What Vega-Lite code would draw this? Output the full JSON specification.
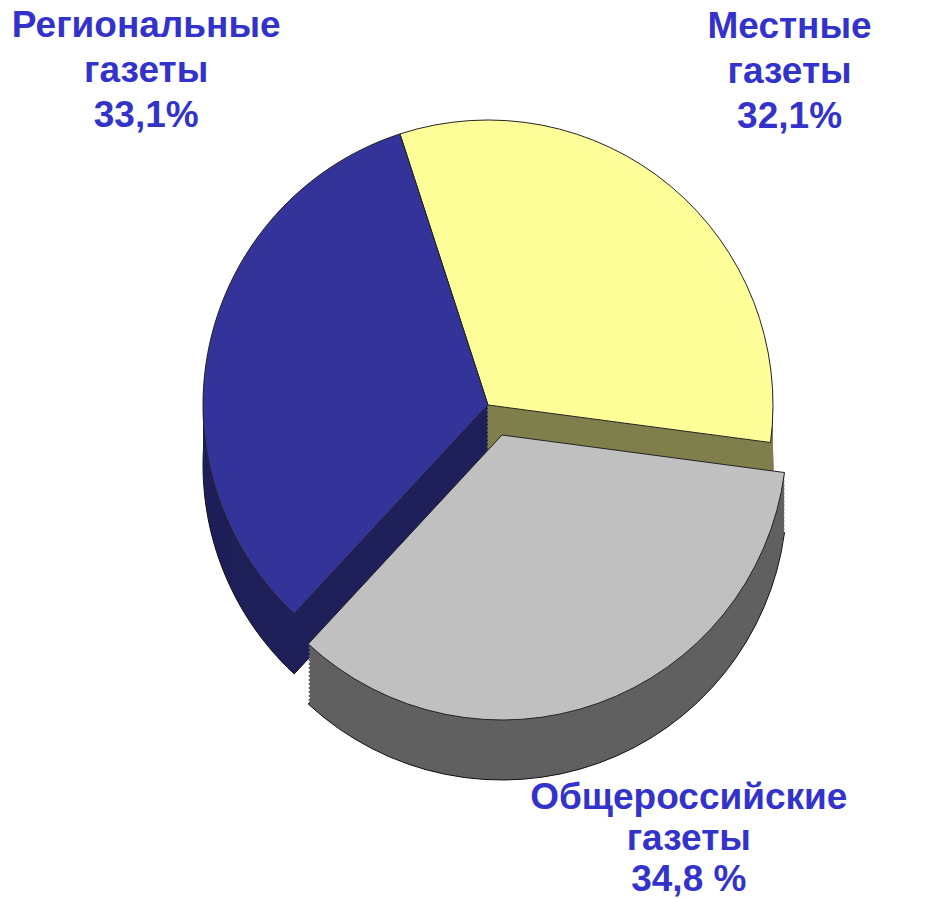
{
  "$schema": "https://vega.github.io/schema/vega-lite/v6.json",
  "autosize": "none",
  "width": 916,
  "height": 810,
  "padding": {"left": 30, "top": 0, "right": 0, "bottom": 89},
  "background": "white",
  "data": {"values": [
    {"i": 1, "k": "l", "name": "Местные газеты", "v": 32.1, "label": "Местные\nгазеты\n32,1%"},
    {"i": 2, "k": "g", "name": "Общероссийские газеты", "v": 34.8, "label": "Общероссийские\nгазеты\n34,8 %"},
    {"i": 3, "k": "r", "name": "Региональные газеты", "v": 33.1, "label": "Региональные\nгазеты\n33,1%"}
  ]},
  "encoding": {
    "theta": {"field": "v", "type": "quantitative", "stack": true, "scale": {"range": [-0.314, 5.969]}},
    "order": {"field": "i", "type": "quantitative"}
  },
  "layer": [
    {"mark": {"type": "arc", "radius": 285, "yOffset": 60, "strokeWidth": 1},
     "encoding": {"fill": {"condition": [{"test": "datum.k=='r'", "value": "#1F1F5A"}, {"test": "datum.k=='l'", "value": "#7F7F4C"}], "value": "transparent"},
                  "stroke": {"condition": {"test": "datum.k=='g'", "value": "transparent"}, "value": "#111111"}}},
    {"mark": {"type": "arc", "radius": 285, "yOffset": 56}, "encoding": {"fill": {"condition": [{"test": "datum.k=='r'", "value": "#1F1F5A"}, {"test": "datum.k=='l'", "value": "#7F7F4C"}], "value": "transparent"}}},
    {"mark": {"type": "arc", "radius": 285, "yOffset": 52}, "encoding": {"fill": {"condition": [{"test": "datum.k=='r'", "value": "#1F1F5A"}, {"test": "datum.k=='l'", "value": "#7F7F4C"}], "value": "transparent"}}},
    {"mark": {"type": "arc", "radius": 285, "yOffset": 48}, "encoding": {"fill": {"condition": [{"test": "datum.k=='r'", "value": "#1F1F5A"}, {"test": "datum.k=='l'", "value": "#7F7F4C"}], "value": "transparent"}}},
    {"mark": {"type": "arc", "radius": 285, "yOffset": 44}, "encoding": {"fill": {"condition": [{"test": "datum.k=='r'", "value": "#1F1F5A"}, {"test": "datum.k=='l'", "value": "#7F7F4C"}], "value": "transparent"}}},
    {"mark": {"type": "arc", "radius": 285, "yOffset": 40}, "encoding": {"fill": {"condition": [{"test": "datum.k=='r'", "value": "#1F1F5A"}, {"test": "datum.k=='l'", "value": "#7F7F4C"}], "value": "transparent"}}},
    {"mark": {"type": "arc", "radius": 285, "yOffset": 36}, "encoding": {"fill": {"condition": [{"test": "datum.k=='r'", "value": "#1F1F5A"}, {"test": "datum.k=='l'", "value": "#7F7F4C"}], "value": "transparent"}}},
    {"mark": {"type": "arc", "radius": 285, "yOffset": 32}, "encoding": {"fill": {"condition": [{"test": "datum.k=='r'", "value": "#1F1F5A"}, {"test": "datum.k=='l'", "value": "#7F7F4C"}], "value": "transparent"}}},
    {"mark": {"type": "arc", "radius": 285, "yOffset": 28}, "encoding": {"fill": {"condition": [{"test": "datum.k=='r'", "value": "#1F1F5A"}, {"test": "datum.k=='l'", "value": "#7F7F4C"}], "value": "transparent"}}},
    {"mark": {"type": "arc", "radius": 285, "yOffset": 24}, "encoding": {"fill": {"condition": [{"test": "datum.k=='r'", "value": "#1F1F5A"}, {"test": "datum.k=='l'", "value": "#7F7F4C"}], "value": "transparent"}}},
    {"mark": {"type": "arc", "radius": 285, "yOffset": 20}, "encoding": {"fill": {"condition": [{"test": "datum.k=='r'", "value": "#1F1F5A"}, {"test": "datum.k=='l'", "value": "#7F7F4C"}], "value": "transparent"}}},
    {"mark": {"type": "arc", "radius": 285, "yOffset": 16}, "encoding": {"fill": {"condition": [{"test": "datum.k=='r'", "value": "#1F1F5A"}, {"test": "datum.k=='l'", "value": "#7F7F4C"}], "value": "transparent"}}},
    {"mark": {"type": "arc", "radius": 285, "yOffset": 12}, "encoding": {"fill": {"condition": [{"test": "datum.k=='r'", "value": "#1F1F5A"}, {"test": "datum.k=='l'", "value": "#7F7F4C"}], "value": "transparent"}}},
    {"mark": {"type": "arc", "radius": 285, "yOffset": 8}, "encoding": {"fill": {"condition": [{"test": "datum.k=='r'", "value": "#1F1F5A"}, {"test": "datum.k=='l'", "value": "#7F7F4C"}], "value": "transparent"}}},
    {"mark": {"type": "arc", "radius": 285, "yOffset": 4}, "encoding": {"fill": {"condition": [{"test": "datum.k=='r'", "value": "#1F1F5A"}, {"test": "datum.k=='l'", "value": "#7F7F4C"}], "value": "transparent"}}},
    {"mark": {"type": "arc", "radius": 285, "strokeWidth": 1},
     "encoding": {"fill": {"condition": [{"test": "datum.k=='r'", "value": "#333399"}, {"test": "datum.k=='l'", "value": "#FFFF99"}], "value": "transparent"},
                  "stroke": {"condition": {"test": "datum.k=='g'", "value": "transparent"}, "value": "#222222"}}},
    {"mark": {"type": "arc", "radius": 285, "xOffset": 14, "yOffset": 90, "strokeWidth": 1},
     "encoding": {"fill": {"condition": {"test": "datum.k=='g'", "value": "#606060"}, "value": "transparent"},
                  "stroke": {"condition": {"test": "datum.k=='g'", "value": "#111111"}, "value": "transparent"}}},
    {"mark": {"type": "arc", "radius": 285, "xOffset": 14, "yOffset": 86}, "encoding": {"fill": {"condition": {"test": "datum.k=='g'", "value": "#606060"}, "value": "transparent"}}},
    {"mark": {"type": "arc", "radius": 285, "xOffset": 14, "yOffset": 82}, "encoding": {"fill": {"condition": {"test": "datum.k=='g'", "value": "#606060"}, "value": "transparent"}}},
    {"mark": {"type": "arc", "radius": 285, "xOffset": 14, "yOffset": 78}, "encoding": {"fill": {"condition": {"test": "datum.k=='g'", "value": "#606060"}, "value": "transparent"}}},
    {"mark": {"type": "arc", "radius": 285, "xOffset": 14, "yOffset": 74}, "encoding": {"fill": {"condition": {"test": "datum.k=='g'", "value": "#606060"}, "value": "transparent"}}},
    {"mark": {"type": "arc", "radius": 285, "xOffset": 14, "yOffset": 70}, "encoding": {"fill": {"condition": {"test": "datum.k=='g'", "value": "#606060"}, "value": "transparent"}}},
    {"mark": {"type": "arc", "radius": 285, "xOffset": 14, "yOffset": 66}, "encoding": {"fill": {"condition": {"test": "datum.k=='g'", "value": "#606060"}, "value": "transparent"}}},
    {"mark": {"type": "arc", "radius": 285, "xOffset": 14, "yOffset": 62}, "encoding": {"fill": {"condition": {"test": "datum.k=='g'", "value": "#606060"}, "value": "transparent"}}},
    {"mark": {"type": "arc", "radius": 285, "xOffset": 14, "yOffset": 58}, "encoding": {"fill": {"condition": {"test": "datum.k=='g'", "value": "#606060"}, "value": "transparent"}}},
    {"mark": {"type": "arc", "radius": 285, "xOffset": 14, "yOffset": 54}, "encoding": {"fill": {"condition": {"test": "datum.k=='g'", "value": "#606060"}, "value": "transparent"}}},
    {"mark": {"type": "arc", "radius": 285, "xOffset": 14, "yOffset": 50}, "encoding": {"fill": {"condition": {"test": "datum.k=='g'", "value": "#606060"}, "value": "transparent"}}},
    {"mark": {"type": "arc", "radius": 285, "xOffset": 14, "yOffset": 46}, "encoding": {"fill": {"condition": {"test": "datum.k=='g'", "value": "#606060"}, "value": "transparent"}}},
    {"mark": {"type": "arc", "radius": 285, "xOffset": 14, "yOffset": 42}, "encoding": {"fill": {"condition": {"test": "datum.k=='g'", "value": "#606060"}, "value": "transparent"}}},
    {"mark": {"type": "arc", "radius": 285, "xOffset": 14, "yOffset": 38}, "encoding": {"fill": {"condition": {"test": "datum.k=='g'", "value": "#606060"}, "value": "transparent"}}},
    {"mark": {"type": "arc", "radius": 285, "xOffset": 14, "yOffset": 34}, "encoding": {"fill": {"condition": {"test": "datum.k=='g'", "value": "#606060"}, "value": "transparent"}}},
    {"mark": {"type": "arc", "radius": 285, "xOffset": 14, "yOffset": 30, "strokeWidth": 1},
     "encoding": {"fill": {"condition": {"test": "datum.k=='g'", "value": "#C0C0C0"}, "value": "transparent"},
                  "stroke": {"condition": {"test": "datum.k=='g'", "value": "#222222"}, "value": "transparent"}}},
    {"mark": {"type": "text", "radius": 440, "dx": 20, "dy": -40, "font": "Liberation Sans", "fontSize": 37, "fontWeight": "bold", "fill": "#3333CC", "lineBreak": "\n", "lineHeight": 45, "align": "center", "baseline": "middle"},
     "encoding": {"text": {"condition": {"test": "datum.k=='l'", "field": "label"}, "value": ""}}},
    {"mark": {"type": "text", "radius": 460, "dx": 45, "dy": -40, "font": "Liberation Sans", "fontSize": 37, "fontWeight": "bold", "fill": "#3333CC", "lineBreak": "\n", "lineHeight": 41, "align": "center", "baseline": "middle"},
     "encoding": {"text": {"condition": {"test": "datum.k=='g'", "field": "label"}, "value": ""}}},
    {"mark": {"type": "text", "radius": 350, "dy": -304, "font": "Liberation Sans", "fontSize": 37, "fontWeight": "bold", "fill": "#3333CC", "lineBreak": "\n", "lineHeight": 45, "align": "center", "baseline": "middle"},
     "encoding": {"text": {"condition": {"test": "datum.k=='r'", "field": "label"}, "value": ""}}}
  ]
}
